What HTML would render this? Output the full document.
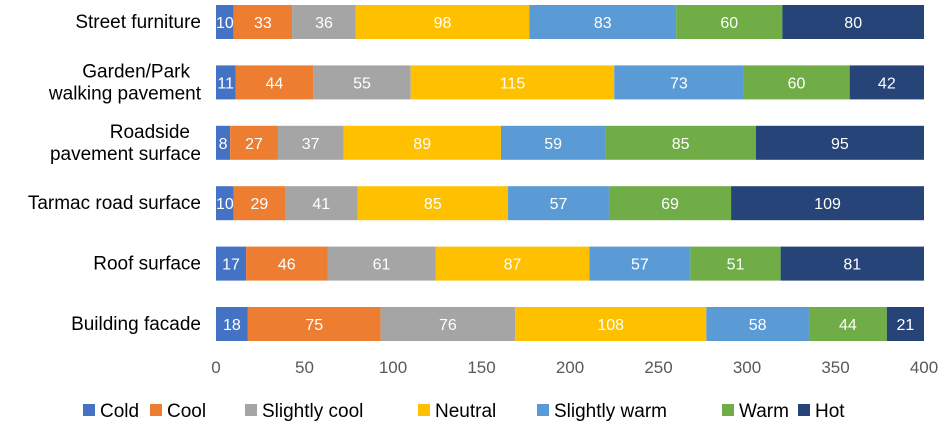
<!DOCTYPE html>
<html><head><meta charset="utf-8"><style>
body{margin:0;background:#fff;font-family:"Liberation Sans",sans-serif;}
</style></head><body>
<svg id="chart" width="944" height="427" xmlns="http://www.w3.org/2000/svg"></svg>
<script>
const categories=["Street furniture","Garden/Park|walking pavement","Roadside|pavement surface","Tarmac road surface","Roof surface","Building facade"];
const seriesNames=["Cold","Cool","Slightly cool","Neutral","Slightly warm","Warm","Hot"];
const cold=[10,11,8,10,17,18];
const cool=[33,44,27,29,46,75];
const slightlyCool=[36,55,37,41,61,76];
const neutral=[98,115,89,85,87,108];
const slightlyWarm=[83,73,59,57,57,58];
const warm=[60,60,85,69,51,44];
const hot=[80,42,95,109,81,21];
const xTicks=[0,50,100,150,200,250,300,350,400];
const series=[cold,cool,slightlyCool,neutral,slightlyWarm,warm,hot];
const colors=["#4472C4","#ED7D31","#A5A5A5","#FFC000","#5B9BD5","#70AD47","#264478"];
const NS="http://www.w3.org/2000/svg";
const svg=document.getElementById('chart');
const x0=216,x1=924,xMax=400;
const xs=v=>x0+(v/xMax)*(x1-x0);
const yc=i=>22+i*60.4;
const bh=34;
function mk(t,a){const e=document.createElementNS(NS,t);for(const k in a)e.setAttribute(k,a[k]);svg.appendChild(e);return e;}
categories.forEach((c,i)=>{
  let acc=0;
  series.forEach((s,j)=>{
    const v=s[i];
    const r=mk('rect',{x:xs(acc),y:yc(i)-bh/2,width:xs(acc+v)-xs(acc),height:bh,fill:colors[j]});
    
    
    const t=mk('text',{x:(xs(acc)+xs(acc+v))/2,y:yc(i)+6,'text-anchor':'middle','font-size':16,fill:'#fff'});
    t.textContent=v;
    
    
    acc+=v;
  });
  const lines=c.split('|');
  const lbl=mk('text',{x:201,y:0,'text-anchor':'end','font-size':19,fill:'#000'});
  
  
  lines.forEach((l,k)=>{
    const ts=document.createElementNS(NS,'tspan');
    ts.setAttribute('x',lines.length>1?(k===0?190:201):201);
    ts.setAttribute('y',yc(i)+6+(lines.length>1?(k-0.5)*22:0));
    ts.textContent=l;lbl.appendChild(ts);
  });
});
xTicks.forEach(v=>{
  const t=mk('text',{x:xs(v),y:373,'text-anchor':'middle','font-size':17,fill:'#595959'});
  t.textContent=v;
  
  
});
const legX=[83,150,245,418,537,722,798];
seriesNames.forEach((n,j)=>{
  const r=mk('rect',{x:legX[j],y:404,width:12,height:12,fill:colors[j]});
  
  
  const t=mk('text',{x:legX[j]+17,y:417,'font-size':19,fill:'#000'});
  t.textContent=n;
  
  
});
</script>
</body></html>
